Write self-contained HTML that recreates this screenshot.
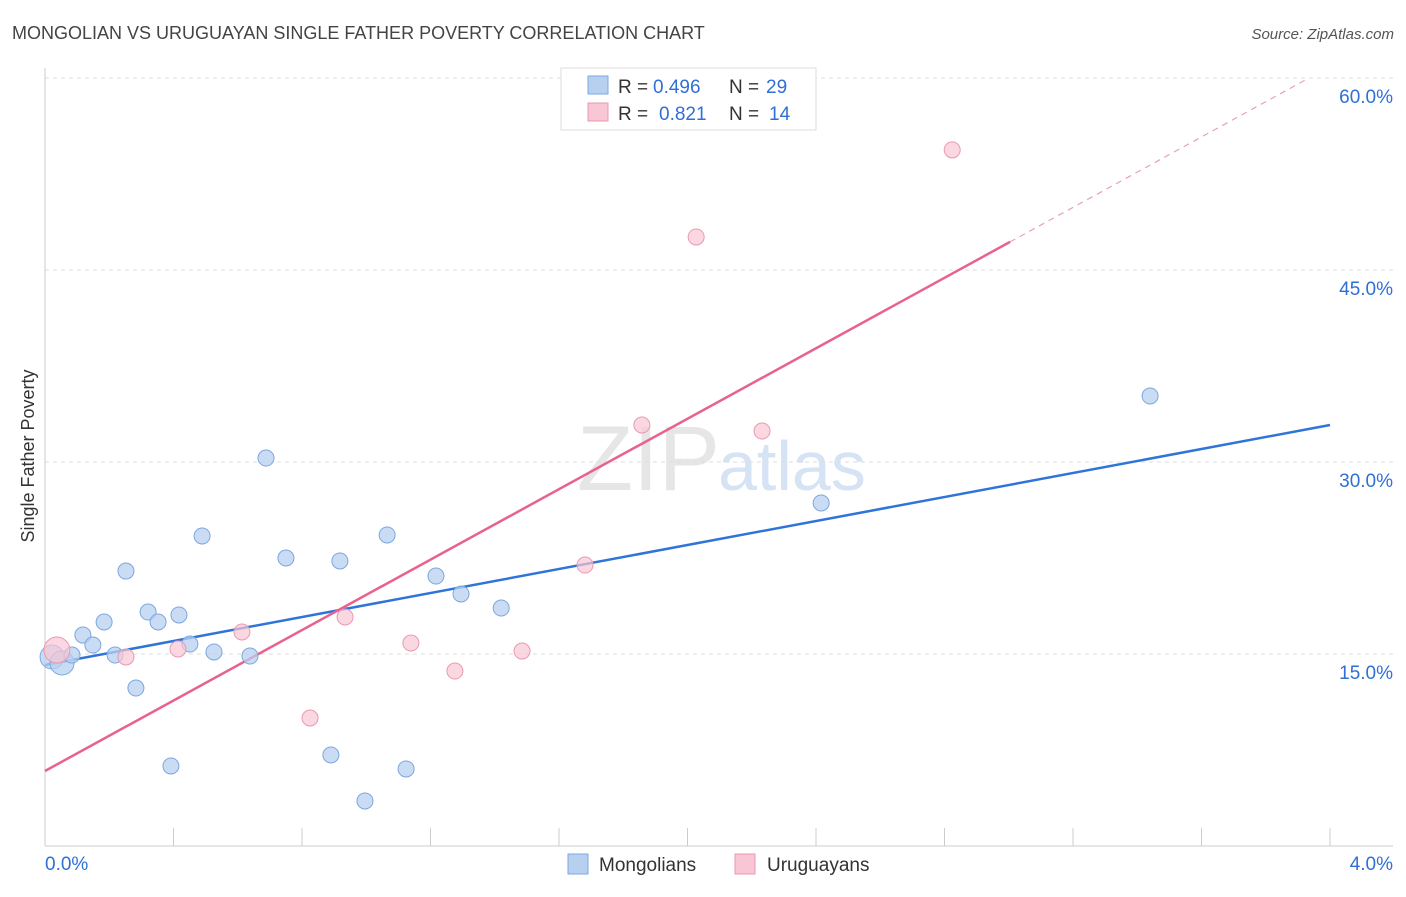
<!DOCTYPE html>
<html><head><meta charset="utf-8">
<style>
body{margin:0;background:#fff;font-family:"Liberation Sans",sans-serif;}
svg text{font-family:"Liberation Sans",sans-serif;}
</style></head>
<body>
<svg id="chart" width="1406" height="892">
<text x="12" y="39" font-size="18" fill="#444">MONGOLIAN VS URUGUAYAN SINGLE FATHER POVERTY CORRELATION CHART</text>
<text x="1394" y="39" font-size="15" fill="#555" font-style="italic" text-anchor="end">Source: ZipAtlas.com</text>
<text x="720" y="490" font-size="92" fill="#e6e6e6" text-anchor="end" font-family="Liberation Serif">ZIP</text>
<text x="718" y="490" font-size="70" fill="#d5e3f5">atlas</text>
<text transform="translate(34,456) rotate(-90)" font-size="18" fill="#333" text-anchor="middle">Single Father Poverty</text>
<g id="grid"></g><g id="axes"></g><g id="lines"></g><g id="points"></g>
<g>
<rect x="561" y="68" width="255" height="62" fill="#fff" stroke="#ddd"/>
<rect x="588" y="76" width="20" height="18" fill="#b8d0f0" stroke="#7ba7e0"/>
<rect x="588" y="103" width="20" height="18" fill="#f8c6d4" stroke="#e89ab0"/>
<text x="618" y="93" font-size="19" fill="#333">R =</text>
<text x="653" y="93" font-size="19" fill="#2f6fd6">0.496</text>
<text x="729" y="93" font-size="19" fill="#333">N =</text>
<text x="766" y="93" font-size="19" fill="#2f6fd6">29</text>
<text x="618" y="120" font-size="19" fill="#333">R =</text>
<text x="659" y="120" font-size="19" fill="#2f6fd6">0.821</text>
<text x="729" y="120" font-size="19" fill="#333">N =</text>
<text x="769" y="120" font-size="19" fill="#2f6fd6">14</text>
</g>
<g>
<rect x="568" y="854" width="20" height="20" fill="#b8d0f0" stroke="#7ba7e0"/>
<text x="599" y="871" font-size="19" fill="#333">Mongolians</text>
<rect x="735" y="854" width="20" height="20" fill="#f8c6d4" stroke="#e89ab0"/>
<text x="767" y="871" font-size="19" fill="#333">Uruguayans</text>
</g>
</svg>
<script>
const blueX=[0.022,0.053,0.084,0.118,0.149,0.184,0.218,0.252,0.283,0.321,0.352,0.392,0.417,0.451,0.489,0.526,0.638,0.688,0.750,0.890,0.918,0.996,1.065,1.124,1.217,1.295,1.420,2.416,3.440];
const blueY=[14.77,14.30,14.92,16.48,15.70,17.50,14.92,21.48,12.34,18.28,17.50,6.25,18.05,15.78,24.22,15.16,14.84,30.31,22.50,7.11,22.27,3.52,24.30,6.02,21.09,19.69,18.59,26.80,35.16];
const pinkX=[0.037,0.252,0.414,0.613,0.825,0.934,1.139,1.276,1.485,1.681,1.858,2.027,2.232,2.824];
const pinkY=[15.31,14.77,15.39,16.72,10.00,17.89,15.86,13.67,15.23,21.95,32.89,47.58,32.42,54.38];
const yTicks=[15,30,45,60];
const xTickLabels=["0.0%","4.0%"];
const blueLine=[14.14,32.89];
const pinkLine=[5.86,13.76];
const NS="http://www.w3.org/2000/svg";
const sx=v=>45+v/4*1285, sy=v=>846-v*12.8;
function mk(t,a,p){const e=document.createElementNS(NS,t);for(const k in a)e.setAttribute(k,a[k]);document.getElementById(p).appendChild(e);return e;}
yTicks.forEach(t=>{
 const l=mk('line',{x1:45,x2:1393,y1:sy(t),y2:sy(t),stroke:'#ddd','stroke-dasharray':'4,4'},'grid');
 
 
 const tx=mk('text',{x:1393,y:sy(t)+25,'font-size':19,fill:'#2f6fd6','text-anchor':'end'},'axes');
 tx.textContent=t.toFixed(1)+'%';
 
 
});
mk('line',{x1:45,x2:45,y1:68,y2:846,stroke:'#ccc'},'axes');
mk('line',{x1:45,x2:1393,y1:846,y2:846,stroke:'#ccc'},'axes');
for(let i=0;i<=10;i++){const x=sx(i*0.4);const t=mk('line',{x1:x,x2:x,y1:828,y2:846,stroke:'#ccc'},'axes');
 
 }
const xl0=mk('text',{x:45,y:870,'font-size':19,fill:'#2f6fd6'},'axes');xl0.textContent=xTickLabels[0];


const xl1=mk('text',{x:1393,y:870,'font-size':19,fill:'#2f6fd6','text-anchor':'end'},'axes');xl1.textContent=xTickLabels[1];


const bl=mk('line',{x1:sx(0),y1:sy(blueLine[0]),x2:sx(4),y2:sy(blueLine[1]),stroke:'#2f74d8','stroke-width':2.5},'lines');


const pe=3.004,pd=3.922;
const pl=mk('line',{x1:sx(0),y1:sy(pinkLine[0]),x2:sx(pe),y2:sy(pinkLine[0]+pinkLine[1]*pe),stroke:'#e8628f','stroke-width':2.5},'lines');


const pd2=mk('line',{x1:sx(pe),y1:sy(pinkLine[0]+pinkLine[1]*pe),x2:sx(pd),y2:sy(pinkLine[0]+pinkLine[1]*pd),stroke:'#e8a0b8','stroke-width':1.2,'stroke-dasharray':'6,5'},'lines');


blueX.forEach((x,i)=>{const c=mk('circle',{cx:sx(x),cy:sy(blueY[i]),r:i<2?12:8,fill:'#b8d0f0','fill-opacity':0.75,stroke:'#7ba7e0','stroke-width':1},'points');
 
 });
pinkX.forEach((x,i)=>{const c=mk('circle',{cx:sx(x),cy:sy(pinkY[i]),r:i<1?13:8,fill:'#f8c6d4','fill-opacity':0.7,stroke:'#e89ab0','stroke-width':1},'points');
 
 });
</script>
</body></html>
